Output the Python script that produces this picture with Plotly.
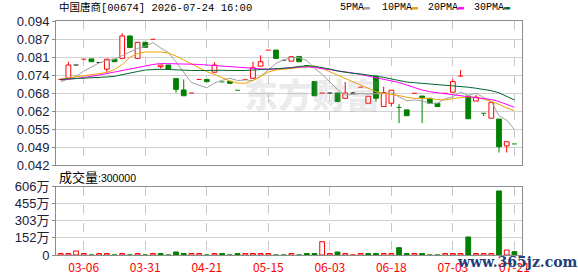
import plotly.graph_objects as go

# ---------------- data ----------------
opens = [0.0729, 0.0733, 0.0781, 0.0802, 0.0803, 0.0790, 0.0766, 0.0802, 0.0805, 0.0886,
         0.0805, 0.0863, 0.0874, 0.0775, 0.0781, 0.0732, 0.0691, 0.0680, 0.0729, 0.0729,
         0.0755, 0.0720, 0.0722, 0.0690, 0.0729, 0.0733, 0.0777, 0.0835, 0.0835, 0.0798,
         0.0795, 0.0812, 0.0779, 0.0721, 0.0680, 0.0680, 0.0680, 0.0661, 0.0680, 0.0701,
         0.0643, 0.0741, 0.0631, 0.0643, 0.0628, 0.0619, 0.0679, 0.0669, 0.0661, 0.0643,
         0.0679, 0.0683, 0.0741, 0.0669, 0.0651, 0.0607, 0.0589, 0.0586, 0.0489, 0.0496]
highs = [0.0729, 0.0793, 0.0781, 0.0802, 0.0803, 0.0790, 0.0802, 0.0802, 0.0896, 0.0886,
         0.0863, 0.0863, 0.0874, 0.0781, 0.0781, 0.0732, 0.0729, 0.0680, 0.0729, 0.0729,
         0.0791, 0.0720, 0.0722, 0.0690, 0.0729, 0.0793, 0.0816, 0.0835, 0.0835, 0.0798,
         0.0811, 0.0812, 0.0779, 0.0721, 0.0680, 0.0680, 0.0680, 0.0720, 0.0683, 0.0701,
         0.0668, 0.0741, 0.0703, 0.0690, 0.0640, 0.0619, 0.0679, 0.0669, 0.0661, 0.0643,
         0.0679, 0.0730, 0.0763, 0.0669, 0.0673, 0.0607, 0.0646, 0.0586, 0.0504, 0.0496]
lows = [0.0729, 0.0733, 0.0781, 0.0802, 0.0793, 0.0790, 0.0756, 0.0793, 0.0805, 0.0844,
        0.0805, 0.0845, 0.0874, 0.0768, 0.0766, 0.0681, 0.0670, 0.0680, 0.0729, 0.0721,
        0.0755, 0.0720, 0.0715, 0.0690, 0.0729, 0.0733, 0.0777, 0.0835, 0.0805, 0.0798,
        0.0795, 0.0793, 0.0779, 0.0670, 0.0680, 0.0680, 0.0649, 0.0661, 0.0680, 0.0701,
        0.0643, 0.0649, 0.0631, 0.0631, 0.0571, 0.0598, 0.0679, 0.0571, 0.0643, 0.0631,
        0.0679, 0.0683, 0.0741, 0.0587, 0.0651, 0.0597, 0.0589, 0.0465, 0.0465, 0.0496]
closes = [0.0729, 0.0781, 0.0781, 0.0802, 0.0793, 0.0790, 0.0802, 0.0793, 0.0886, 0.0844,
          0.0863, 0.0845, 0.0874, 0.0781, 0.0766, 0.0693, 0.0670, 0.0680, 0.0729, 0.0721,
          0.0781, 0.0720, 0.0715, 0.0690, 0.0729, 0.0771, 0.0793, 0.0835, 0.0805, 0.0798,
          0.0811, 0.0793, 0.0779, 0.0670, 0.0680, 0.0680, 0.0649, 0.0680, 0.0680, 0.0701,
          0.0668, 0.0661, 0.0681, 0.0690, 0.0628, 0.0598, 0.0679, 0.0663, 0.0643, 0.0631,
          0.0679, 0.0721, 0.0741, 0.0587, 0.0665, 0.0607, 0.0646, 0.0486, 0.0504, 0.0496]
# r = up (red), g = down (green), k = unchanged (black)
candle_kind = "rrkrgkrgrg" + "rgrrgggrrg" + "rgggrrrrgg" + "rgggrkgrkr" + "rgrrggrggg" + "rrrgrgrgrg"

ma5 = [0.0721, 0.0731, 0.0740, 0.0759, 0.0774, 0.0789, 0.0797, 0.0802, 0.0815, 0.0828,
       0.0841, 0.0849, 0.0862, 0.0843, 0.0826, 0.0792, 0.0757, 0.0718, 0.0708, 0.0699,
       0.0716, 0.0726, 0.0733, 0.0725, 0.0727, 0.0725, 0.0740, 0.0764, 0.0787, 0.0800,
       0.0808, 0.0808, 0.0797, 0.0770, 0.0747, 0.0720, 0.0692, 0.0672, 0.0674, 0.0678,
       0.0676, 0.0678, 0.0678, 0.0680, 0.0666, 0.0652, 0.0655, 0.0652, 0.0642, 0.0643,
       0.0659, 0.0667, 0.0683, 0.0672, 0.0679, 0.0664, 0.0649, 0.0598, 0.0582, 0.0548]
ma10 = [0.07306, 0.07342, 0.07389, 0.07432, 0.07468, 0.07504, 0.07540, 0.07649, 0.07829, 0.08089,
        0.08226, 0.08281, 0.08291, 0.08281, 0.08244, 0.08136, 0.07992, 0.07854, 0.07703, 0.07569,
        0.07468, 0.07342, 0.07233, 0.07161, 0.07150, 0.07251, 0.07414, 0.07558, 0.07631, 0.07656,
        0.07685, 0.07721, 0.07757, 0.07775, 0.07685, 0.07569, 0.07432, 0.07316, 0.07215, 0.07089,
        0.06963, 0.06847, 0.06789, 0.06753, 0.06710, 0.06645, 0.06609, 0.06609, 0.06601, 0.06565,
        0.06547, 0.06601, 0.06645, 0.06666, 0.06638, 0.06583, 0.06493, 0.06392, 0.06258, 0.06161]
ma20 = [0.07269, 0.07287, 0.07324, 0.07360, 0.07396, 0.07450, 0.07504, 0.07558, 0.07613, 0.07685,
        0.07739, 0.07793, 0.07829, 0.07865, 0.07865, 0.07847, 0.07847, 0.07840, 0.07829, 0.07811,
        0.07793, 0.07775, 0.07750, 0.07728, 0.07703, 0.07685, 0.07667, 0.07656, 0.07667, 0.07703,
        0.07721, 0.07739, 0.07746, 0.07721, 0.07685, 0.07631, 0.07594, 0.07558, 0.07522, 0.07468,
        0.07414, 0.07360, 0.07306, 0.07251, 0.07179, 0.07089, 0.06999, 0.06907, 0.06847, 0.06807,
        0.06764, 0.06728, 0.06692, 0.06656, 0.06630, 0.06601, 0.06565, 0.06493, 0.06385, 0.06284]
ma30 = [0.07295, 0.07306, 0.07316, 0.07331, 0.07342, 0.07360, 0.07378, 0.07403, 0.07468, 0.07533,
        0.07576, 0.07631, 0.07656, 0.07656, 0.07649, 0.07631, 0.07620, 0.07613, 0.07613, 0.07620,
        0.07623, 0.07620, 0.07613, 0.07605, 0.07613, 0.07631, 0.07649, 0.07660, 0.07674, 0.07688,
        0.07710, 0.07757, 0.07782, 0.07764, 0.07721, 0.07667, 0.07594, 0.07540, 0.07511, 0.07486,
        0.07450, 0.07414, 0.07367, 0.07306, 0.07251, 0.07197, 0.07172, 0.07150, 0.07132, 0.07114,
        0.07089, 0.07067, 0.07042, 0.07009, 0.06973, 0.06934, 0.06883, 0.06807, 0.06674, 0.06547]

volume = [130000, 130000, 360000, 130000, 0, 130000, 130000, 0, 130000, 0,
          130000, 0, 130000, 130000, 0, 270000, 130000, 130000, 130000, 0,
          130000, 130000, 0, 130000, 130000, 130000, 130000, 130000, 0, 0,
          130000, 0, 130000, 130000, 1180000, 130000, 270000, 130000, 0, 130000,
          130000, 130000, 130000, 130000, 650000, 130000, 130000, 130000, 0, 0,
          130000, 130000, 130000, 1600000, 130000, 130000, 130000, 5680000, 440000, 300000]
volume_kind = "rrrrgrrgrg" + "rgrggggrrg" + "rgggrrrrgg" + "rgggrrgrrr" + "ggrrggrggg" + "rrrgrrrgrg"

price_ticks = [0.042, 0.0485, 0.055, 0.0615, 0.068, 0.0745, 0.081, 0.0875, 0.094]
price_tick_text = ["0.042", "0.049", "0.055", "0.062", "0.068", "0.074", "0.081", "0.087", "0.094"]
vol_ticks = [0, 1515000, 3030000, 4545000, 6060000]
vol_tick_text = ["0", "152万", "303万", "455万", "606万"]
date_tick_index = [3, 11, 19, 27, 35, 43, 51, 59]
date_tick_text = ["03-06", "03-31", "04-21", "05-15", "06-03", "06-18", "07-03", "07-21"]

title_text = "中国唐商[00674] 2026-07-24 16:00"
volume_title = "成交量:300000"

# ---------------- styling ----------------
RED, GREEN, BLACK = "#ff0000", "#008000", "#000000"
KCOL = {"r": RED, "g": GREEN, "k": BLACK}
MA_COLORS = {"5PMA": "#a0a0a0", "10PMA": "#f2a200", "20PMA": "#ff00ff", "30PMA": "#006633"}
GRID = "#d2d2d2"
FRAME = "#8c8c8c"
n = len(closes)
xs_all = list(range(n))

fig = go.Figure()

# candle bodies
body_x, body_base, body_h, body_fill, body_line = [], [], [], [], []
for i in xs_all:
    if opens[i] != closes[i]:
        body_x.append(i)
        body_base.append(min(opens[i], closes[i]))
        body_h.append(abs(closes[i] - opens[i]))
        c = KCOL[candle_kind[i]]
        body_fill.append("white" if candle_kind[i] == "r" else c)
        body_line.append(c)
fig.add_trace(go.Bar(x=body_x, y=body_h, base=body_base, width=0.62,
                     marker=dict(color=body_fill, line=dict(color=body_line, width=1)),
                     xaxis="x", yaxis="y", hoverinfo="skip"))

# wicks and flat (open == close) dashes
for k, col in KCOL.items():
    lx, ly = [], []
    for i in xs_all:
        if candle_kind[i] != k:
            continue
        top, bot = max(opens[i], closes[i]), min(opens[i], closes[i])
        if highs[i] > top:
            lx += [i, i, None]; ly += [top, highs[i], None]
        if lows[i] < bot:
            lx += [i, i, None]; ly += [lows[i], bot, None]
        if opens[i] == closes[i]:
            lx += [i - 0.31, i + 0.31, None]; ly += [opens[i], opens[i], None]
    if lx:
        fig.add_trace(go.Scatter(x=lx, y=ly, mode="lines", line=dict(color=col, width=1),
                                 xaxis="x", yaxis="y", hoverinfo="skip"))

# moving averages
for name, vals in [("5PMA", ma5), ("10PMA", ma10), ("20PMA", ma20), ("30PMA", ma30)]:
    fig.add_trace(go.Scatter(x=xs_all, y=vals, mode="lines",
                             line=dict(color=MA_COLORS[name], width=1),
                             xaxis="x", yaxis="y", hoverinfo="skip"))

# volume
vfill = ["white" if volume_kind[i] == "r" else GREEN for i in xs_all]
vline = [RED if volume_kind[i] == "r" else GREEN for i in xs_all]
fig.add_trace(go.Bar(x=xs_all, y=volume, width=0.62,
                     marker=dict(color=vfill, line=dict(color=vline, width=1)),
                     xaxis="x2", yaxis="y2", hoverinfo="skip"))

L, R, T, B, W, H = 56, 56, 21, 21, 578, 276
PW, PH = W - L - R, H - T - B


def px(xp):
    return (xp - L) / PW


def py(yp):
    return (H - B - yp) / PH


xcommon = dict(range=[-0.61, 59.99], tickvals=date_tick_index, showgrid=True,
               gridcolor="#c8c8c8", griddash="dash", gridwidth=1, showline=True,
               mirror=True, linecolor=FRAME, linewidth=1, zeroline=False, ticks="",
               automargin=False)
ycommon = dict(showgrid=True, gridcolor=GRID, gridwidth=1, showline=True, mirror=True,
               linecolor=FRAME, linewidth=1, zeroline=False, ticks="outside", ticklen=3,
               tickcolor=FRAME, automargin=False,
               tickfont=dict(family="Liberation Sans, Noto Sans CJK SC", size=13, color="#20203a"))

fig.update_layout(
    width=W, height=H, margin=dict(l=L, r=R, t=T, b=B, pad=0, autoexpand=False),
    paper_bgcolor="white", plot_bgcolor="white", showlegend=False,
    xaxis=dict(domain=[0, 1], anchor="y", showticklabels=False, **xcommon),
    xaxis2=dict(domain=[0, 1], anchor="y2", matches="x", ticktext=date_tick_text,
                showticklabels=True, ticklabelstandoff=2,
                tickfont=dict(family="Noto Sans CJK SC", size=12, color=RED), **xcommon),
    yaxis=dict(domain=[(H - B - 165) / PH, 1], range=[0.042, 0.094], tickvals=price_ticks,
               ticktext=price_tick_text, **ycommon),
    yaxis2=dict(domain=[0, (H - B - 186.7) / PH], range=[0, 6060000], tickvals=vol_ticks,
                ticktext=vol_tick_text, **ycommon),
)

ann = []
ann.append(dict(text=title_text, x=px(57), y=py(8), xanchor="left", yanchor="middle",
                font=dict(family="Liberation Mono, Noto Sans CJK SC", size=10.5, color="#000")))
legend_x = {"5PMA": 338, "10PMA": 380, "20PMA": 426, "30PMA": 471.5}
for name, xp in legend_x.items():
    ann.append(dict(text=f"{name}<span style='color:{MA_COLORS[name]}'>▬</span>",
                    x=px(xp), y=py(8), xanchor="left", yanchor="middle",
                    font=dict(family="Liberation Mono, DejaVu Sans Mono", size=10, color="#000")))
ann.append(dict(text=f"<span style='font-size:13px'>{volume_title[:3]}</span>{volume_title[3:]}",
                x=px(57), y=py(177), xanchor="left", yanchor="middle",
                font=dict(family="Liberation Sans, Noto Sans CJK SC", size=10.5, color="#000")))
ann.append(dict(text="东方财富", x=px(312), y=py(93), xanchor="center", yanchor="middle",
                font=dict(family="Noto Sans CJK SC", size=34, color="rgba(150,150,165,0.2)",
                          weight=900)))
ann.append(dict(text="www.365jz.com", x=px(455), y=py(261.5), xanchor="left", yanchor="middle",
                font=dict(family="DejaVu Serif", size=14, color="#1f3f7a", weight="bold")))
for a in ann:
    a.update(xref="paper", yref="paper", showarrow=False)
fig.update_layout(annotations=ann)

fig.write_html("out.html")
